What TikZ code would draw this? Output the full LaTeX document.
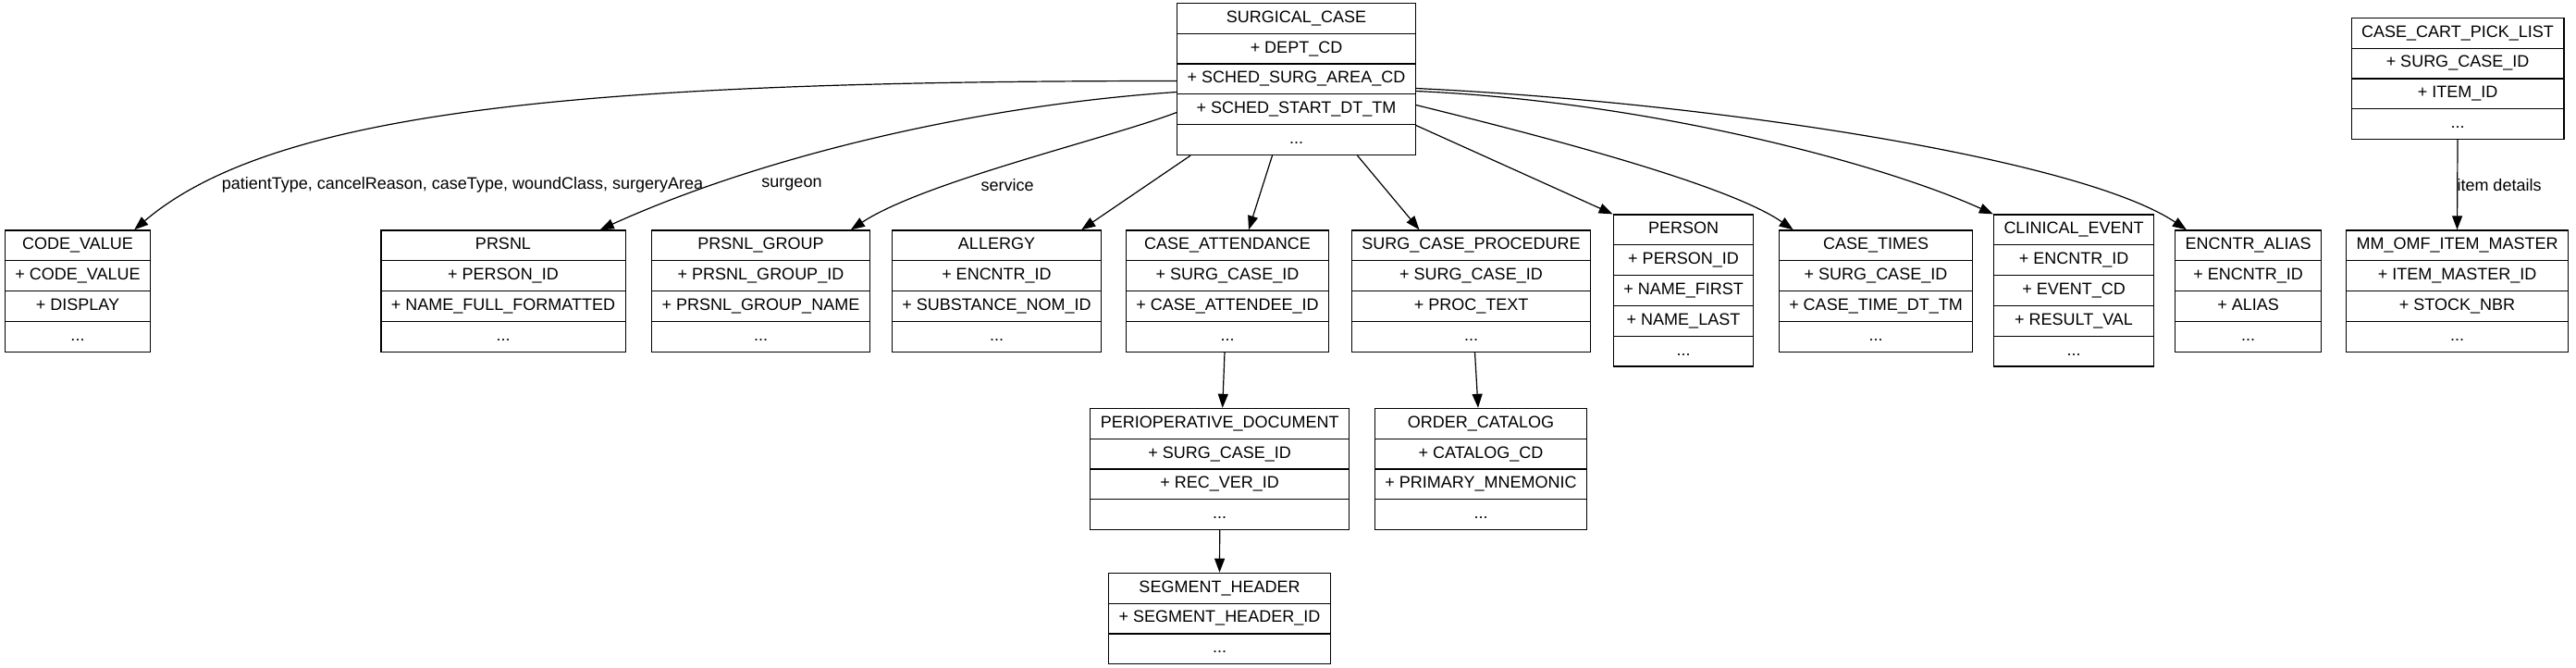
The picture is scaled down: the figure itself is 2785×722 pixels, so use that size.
\documentclass[tikz,border=0pt]{standalone}
\usepackage{fontspec}
\setmainfont{Liberation Sans}
\usetikzlibrary{arrows.meta}
\usetikzlibrary{shapes.multipart}

\newcommand{\np}[1]{\nodepart{#1}\strut}

\tikzset{
  entity/.style={draw, line width=0.6pt, rectangle split, rectangle split parts=#1,
    inner xsep=5.5pt, inner ysep=2.4pt, font=\fontsize{9}{11}\selectfont},
  link/.style={line width=0.6pt, -{Triangle[length=7.5pt,width=5.5pt]}},
  lbl/.style={inner sep=1pt, font=\fontsize{9}{11}\selectfont}
}

\begin{document}
\begin{tikzpicture}[x=0.5pt, y=-0.5pt]
  \useasboundingbox (0,0) rectangle (2785,722);

  % top
  \node[entity=5] (sc) at (1401.5,85.5) {\strut SURGICAL\_CASE\np{two}+ DEPT\_CD\np{three}+ SCHED\_SURG\_AREA\_CD\np{four}+ SCHED\_START\_DT\_TM\np{five}...};
  \node[entity=4] (cart) at (2657,85) {\strut CASE\_CART\_PICK\_LIST\np{two}+ SURG\_CASE\_ID\np{three}+ ITEM\_ID\np{four}...};

  % middle row
  \node[entity=4] (cv) at (84,314.5) {\strut CODE\_VALUE\np{two}+ CODE\_VALUE\np{three}+ DISPLAY\np{four}...};
  \node[entity=4] (prsnl) at (544,314.5) {\strut PRSNL\np{two}+ PERSON\_ID\np{three}+ NAME\_FULL\_FORMATTED\np{four}...};
  \node[entity=4] (pgroup) at (822.5,314.5) {\strut PRSNL\_GROUP\np{two}+ PRSNL\_GROUP\_ID\np{three}+ PRSNL\_GROUP\_NAME\np{four}...};
  \node[entity=4] (allergy) at (1077.5,314.5) {\strut ALLERGY\np{two}+ ENCNTR\_ID\np{three}+ SUBSTANCE\_NOM\_ID\np{four}...};
  \node[entity=4] (catt) at (1327,314.5) {\strut CASE\_ATTENDANCE\np{two}+ SURG\_CASE\_ID\np{three}+ CASE\_ATTENDEE\_ID\np{four}...};
  \node[entity=4] (scp) at (1590.5,314.5) {\strut SURG\_CASE\_PROCEDURE\np{two}+ SURG\_CASE\_ID\np{three}+ PROC\_TEXT\np{four}...};
  \node[entity=5] (person) at (1820,314) {\strut PERSON\np{two}+ PERSON\_ID\np{three}+ NAME\_FIRST\np{four}+ NAME\_LAST\np{five}...};
  \node[entity=4] (ctimes) at (2028,314.5) {\strut CASE\_TIMES\np{two}+ SURG\_CASE\_ID\np{three}+ CASE\_TIME\_DT\_TM\np{four}...};
  \node[entity=5] (cevent) at (2242,314) {\strut CLINICAL\_EVENT\np{two}+ ENCNTR\_ID\np{three}+ EVENT\_CD\np{four}+ RESULT\_VAL\np{five}...};
  \node[entity=4] (ealias) at (2430.5,314.5) {\strut ENCNTR\_ALIAS\np{two}+ ENCNTR\_ID\np{three}+ ALIAS\np{four}...};
  \node[entity=4] (mm) at (2656.5,314.5) {\strut MM\_OMF\_ITEM\_MASTER\np{two}+ ITEM\_MASTER\_ID\np{three}+ STOCK\_NBR\np{four}...};

  % lower rows
  \node[entity=4] (peri) at (1318.7,507) {\strut PERIOPERATIVE\_DOCUMENT\np{two}+ SURG\_CASE\_ID\np{three}+ REC\_VER\_ID\np{four}...};
  \node[entity=4] (order) at (1601,507) {\strut ORDER\_CATALOG\np{two}+ CATALOG\_CD\np{three}+ PRIMARY\_MNEMONIC\np{four}...};
  \node[entity=3] (seg) at (1318.5,668.5) {\strut SEGMENT\_HEADER\np{two}+ SEGMENT\_HEADER\_ID\np{three}...};

  % edge labels
  \node[lbl] (lblcv) at (500,200) {patientType, cancelReason, caseType, woundClass, surgeryArea};
  \node[lbl] (lblsurgeon) at (856,200) {surgeon};
  \node[lbl] (lblservice) at (1089,200) {service};
  \node[lbl] (lblitem) at (2702,200) {item details};

  % links
  \draw[link] ([yshift=-1pt]sc.west) .. controls +(-623,0) and +(155,-132) .. ([xshift=-9pt]cv.north east);
  \draw[link] ([yshift=-7pt]sc.west) .. controls +(-223,15) and +(170,-77) .. ([xshift=-14pt]prsnl.north east);
  \draw[link] ([yshift=-18pt]sc.west) .. controls +(-73,28) and +(79,-52) .. ([xshift=-10.5pt]pgroup.north east);
  \draw[link] ([xshift=7.5pt]sc.south west) -- ([xshift=-11pt]allergy.north east);
  \draw[link] ([xshift=-13pt]sc.south) -- ([xshift=11.5pt]catt.north);
  \draw[link] ([xshift=33pt]sc.south) -- ([xshift=-28pt]scp.north);
  \draw[link] ([yshift=-25pt]sc.east) -- (person.north west);
  \draw[link] ([yshift=-14pt]sc.east) .. controls +(109,27) and +(-75,-52) .. ([xshift=8pt]ctimes.north west);
  \draw[link] ([yshift=-6.5pt]sc.east) .. controls +(249,11) and +(-124,-56) .. (cevent.north west);
  \draw[link] ([yshift=-5pt]sc.east) .. controls +(319,15) and +(-115,-77) .. ([xshift=6.5pt]ealias.north west);
  \draw[link] ([xshift=-1.5pt]catt.south) -- ([xshift=1.5pt]peri.north);
  \draw[link] ([xshift=2pt]scp.south) -- ([xshift=-1.5pt]order.north);
  \draw[link] (peri.south) -- (seg.north);
  \draw[link] (cart.south) -- (mm.north);
\end{tikzpicture}
\end{document}
